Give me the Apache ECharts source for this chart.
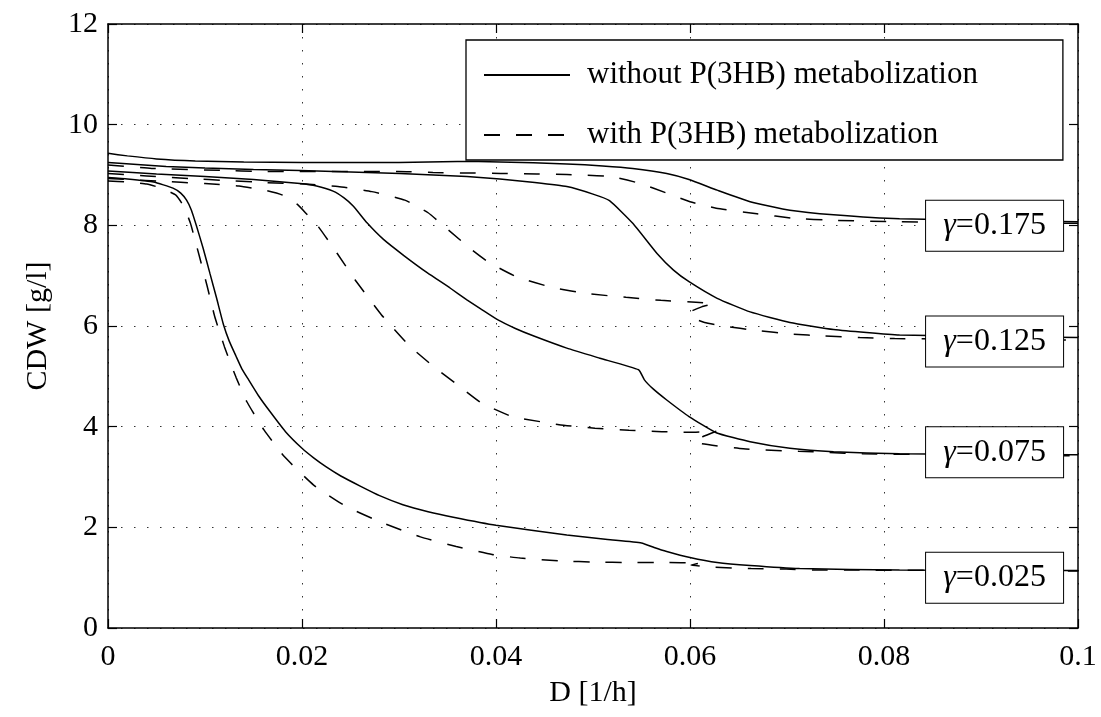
<!DOCTYPE html>
<html><head><meta charset="utf-8">
<script src="https://cdn.jsdelivr.net/npm/echarts/dist/echarts.min.js"></script>
<style>html,body{margin:0;padding:0;background:#fff}#c{width:1101px;height:717px}</style>
</head><body><div id="c"></div>
<script>
// ---------- data ----------
const xTickLabels = ['0','0.02','0.04','0.06','0.08','0.1'];
const yTickLabels = ['0','2','4','6','8','10','12'];
const seriesNames = ['without P(3HB) metabolization','with P(3HB) metabolization'];
const gammaLabels = ['0.175','0.125','0.075','0.025'];
const gammaLabelY = [7.99, 5.69, 3.49, 1.0];
const gammaLabelX = 0.0914;

// gamma = 0.175
const solid175 = [[0,9.43],[0.002,9.38],[0.005,9.32],[0.009,9.28],[0.014,9.26],[0.020,9.25],[0.030,9.25],[0.036,9.27],[0.0404,9.26],[0.0473,9.22],[0.0510,9.18],[0.0541,9.13],[0.0576,9.03],[0.0599,8.91],[0.0628,8.70],[0.0662,8.47],[0.0703,8.30],[0.0748,8.21],[0.0816,8.13],[0.1,8.07]];
const dashed175 = [[0,9.20],[0.0045,9.13],[0.012,9.09],[0.0155,9.07],[0.0299,9.07],[0.0335,9.05],[0.0371,9.04],[0.0405,9.03],[0.0442,9.02],[0.0473,9.01],[0.0518,8.97],[0.0549,8.83],[0.0576,8.64],[0.0600,8.47],[0.0627,8.34],[0.0669,8.23],[0.0707,8.14],[0.0748,8.10],[0.0816,8.07],[0.1,8.04]];
// gamma = 0.125
const solid125 = [[0,9.25],[0.003,9.21],[0.006,9.17],[0.010,9.14],[0.015,9.11],[0.0198,9.09],[0.025,9.06],[0.0301,9.03],[0.037,8.97],[0.0404,8.92],[0.0440,8.85],[0.0473,8.77],[0.0500,8.62],[0.0517,8.49],[0.0541,8.04],[0.0566,7.44],[0.0583,7.11],[0.0599,6.88],[0.0628,6.55],[0.0662,6.28],[0.0703,6.07],[0.0748,5.93],[0.0816,5.82],[0.1,5.77]];
const dashed125 = [[0,9.03],[0.004,8.98],[0.0085,8.93],[0.0123,8.89],[0.0162,8.85],[0.0204,8.82],[0.0237,8.77],[0.0272,8.67],[0.0306,8.50],[0.0330,8.25],[0.0349,7.94],[0.0376,7.50],[0.0393,7.26],[0.0421,6.98],[0.0459,6.76],[0.0496,6.64],[0.0534,6.57],[0.0570,6.51],[0.0606,6.47],[0.0624,6.44],[0.0612,6.38],[0.0600,6.27],[0.0603,6.16],[0.0615,6.07],[0.0634,6.00],[0.0669,5.91],[0.0704,5.84],[0.0739,5.80],[0.0775,5.77],[0.0811,5.75],[0.1,5.72]];
// gamma = 0.075
const solid075 = [[0,9.08],[0.005,9.02],[0.010,8.97],[0.015,8.91],[0.0198,8.83],[0.0215,8.78],[0.0232,8.68],[0.0243,8.55],[0.0253,8.38],[0.0267,8.05],[0.0284,7.72],[0.0305,7.40],[0.0329,7.06],[0.0353,6.75],[0.0370,6.52],[0.0385,6.33],[0.0402,6.12],[0.0420,5.95],[0.0439,5.80],[0.0473,5.56],[0.0507,5.36],[0.0547,5.13],[0.0553,4.93],[0.0562,4.75],[0.0576,4.53],[0.0599,4.20],[0.0627,3.88],[0.0662,3.70],[0.0703,3.57],[0.0748,3.50],[0.0816,3.46],[0.1,3.44]];
const dashed075 = [[0,8.93],[0.005,8.88],[0.010,8.83],[0.0135,8.78],[0.0164,8.69],[0.0180,8.60],[0.0195,8.42],[0.0205,8.22],[0.0217,7.97],[0.0236,7.45],[0.0255,6.91],[0.0282,6.22],[0.0311,5.60],[0.0336,5.19],[0.0359,4.85],[0.0385,4.47],[0.0415,4.21],[0.0427,4.16],[0.0465,4.04],[0.0502,3.97],[0.0537,3.93],[0.0571,3.90],[0.0600,3.89],[0.0627,3.91],[0.0613,3.80],[0.0605,3.72],[0.0612,3.66],[0.0655,3.56],[0.0712,3.51],[0.0741,3.49],[0.0778,3.46],[0.1,3.42]];
// gamma = 0.025
const solid025 = [[0,8.95],[0.002,8.92],[0.0047,8.86],[0.0067,8.74],[0.0075,8.64],[0.0081,8.50],[0.0086,8.30],[0.0091,8.00],[0.0098,7.55],[0.0105,7.05],[0.0112,6.55],[0.0119,6.03],[0.0125,5.70],[0.0132,5.40],[0.0138,5.15],[0.0145,4.93],[0.0155,4.62],[0.0167,4.30],[0.0183,3.90],[0.0200,3.57],[0.0212,3.38],[0.0225,3.20],[0.0240,3.02],[0.0260,2.82],[0.0280,2.63],[0.0304,2.45],[0.0330,2.31],[0.0356,2.20],[0.0400,2.04],[0.0473,1.85],[0.0515,1.76],[0.0550,1.69],[0.0563,1.60],[0.0576,1.52],[0.0600,1.40],[0.0628,1.30],[0.0662,1.24],[0.0713,1.18],[0.0816,1.15],[0.1,1.14]];
const dashed025 = [[0,8.88],[0.002,8.86],[0.004,8.82],[0.0055,8.74],[0.0070,8.60],[0.0078,8.38],[0.0085,8.04],[0.0094,7.40],[0.0102,6.81],[0.0110,6.19],[0.0120,5.59],[0.0132,4.98],[0.0143,4.50],[0.0161,3.93],[0.0182,3.40],[0.0212,2.84],[0.0245,2.42],[0.0283,2.09],[0.0322,1.81],[0.0359,1.62],[0.0396,1.46],[0.0425,1.39],[0.0469,1.33],[0.0502,1.31],[0.0538,1.30],[0.0572,1.30],[0.0610,1.29],[0.0601,1.25],[0.0625,1.21],[0.0663,1.18],[0.0699,1.17],[0.0736,1.15],[0.0773,1.15],[0.1,1.13]];

// ---------- chart ----------
const FONT = 'Liberation Serif';
const chart = echarts.init(document.getElementById('c'), null, {renderer:'canvas'});

function line(name, data, dashed){
  return {
    type:'line', name:name, data:data, symbol:'none', showSymbol:false, smooth:0.15,
    xAxisIndex:0, yAxisIndex:0, animation:false, z:3,
    lineStyle:{color:'#000', width:1.5, type: dashed ? [16,16] : 'solid'},
    itemStyle:{color:'#000'}, emphasis:{disabled:true}
  };
}
const series = [
  line(seriesNames[0], solid175, false), line(seriesNames[1], dashed175, true),
  line(seriesNames[0], solid125, false), line(seriesNames[1], dashed125, true),
  line(seriesNames[0], solid075, false), line(seriesNames[1], dashed075, true),
  line(seriesNames[0], solid025, false), line(seriesNames[1], dashed025, true),
  {
    type:'scatter', name:'labels', symbolSize:1, animation:false, z:10, silent:true,
    itemStyle:{color:'rgba(0,0,0,0)'},
    data: gammaLabelY.map((y,i)=>({value:[gammaLabelX,y], label:{formatter:'{g|\u03B3}=' + gammaLabels[i]}})),
    label:{show:true, position:'inside', backgroundColor:'#fff', borderColor:'#000', borderWidth:1,
      width:137, height:50, lineHeight:50, align:'center', verticalAlign:'middle',
      fontSize:32, fontFamily:FONT, color:'#000', textBorderWidth:0, opacity:1,
      rich:{g:{fontStyle:'italic', fontSize:32, fontFamily:FONT, color:'#000', lineHeight:50, textBorderWidth:0}}}
  }
];

const axisLineStyle = {color:'#000', width:1.5};
const gridDots = {color:'#333', width:1, type:[1.5,11.5]};
const option = {
  backgroundColor:'#fff',
  animation:false,
  grid:{left:108, right:23, top:24, bottom:89, outerBoundsMode:'none', containLabel:false},
  legend:{
    data:seriesNames, orient:'vertical', left:466, top:40, selectedMode:false,
    itemWidth:86, itemHeight:20, itemGap:26, padding:[18,85,8,17],
    borderColor:'#000', borderWidth:1.3, backgroundColor:'#fff', borderRadius:0,
    itemStyle:{opacity:0},
    textStyle:{fontSize:31, fontFamily:FONT, color:'#000', lineHeight:34, padding:[0,0,0,12]}
  },
  xAxis:[
    {type:'value', min:0, max:0.1, interval:0.02, position:'bottom',
     axisLine:{show:true, onZero:false, lineStyle:axisLineStyle},
     axisTick:{show:true, inside:true, length:9, lineStyle:{color:'#000', width:1.2}},
     axisLabel:{margin:14, fontSize:30, fontFamily:FONT, color:'#000',
       formatter:(v)=>xTickLabels[Math.round(v/0.02)]},
     splitLine:{show:true, lineStyle:gridDots},
     name:'D [1/h]', nameLocation:'middle', nameGap:50,
     nameTextStyle:{fontSize:30, fontFamily:FONT, color:'#000'}},
    {type:'value', min:0, max:0.1, interval:0.02, position:'top',
     axisLine:{show:true, onZero:false, lineStyle:axisLineStyle},
     axisTick:{show:true, inside:true, length:9, lineStyle:{color:'#000', width:1.2}},
     axisLabel:{show:false}, splitLine:{show:false}}
  ],
  yAxis:[
    {type:'value', min:0, max:12, interval:2, position:'left',
     axisLine:{show:true, onZero:false, lineStyle:axisLineStyle},
     axisTick:{show:true, inside:true, length:9, lineStyle:{color:'#000', width:1.2}},
     axisLabel:{margin:10, fontSize:30, fontFamily:FONT, color:'#000',
       formatter:(v)=>yTickLabels[Math.round(v/2)]},
     splitLine:{show:true, lineStyle:gridDots},
     name:'CDW [g/l]', nameLocation:'middle', nameGap:55,
     nameTextStyle:{fontSize:30, fontFamily:FONT, color:'#000'}},
    {type:'value', min:0, max:12, interval:2, position:'right',
     axisLine:{show:true, onZero:false, lineStyle:axisLineStyle},
     axisTick:{show:true, inside:true, length:9, lineStyle:{color:'#000', width:1.2}},
     axisLabel:{show:false}, splitLine:{show:false}}
  ],
  series: series
};
chart.setOption(option);
</script>
</body></html>
